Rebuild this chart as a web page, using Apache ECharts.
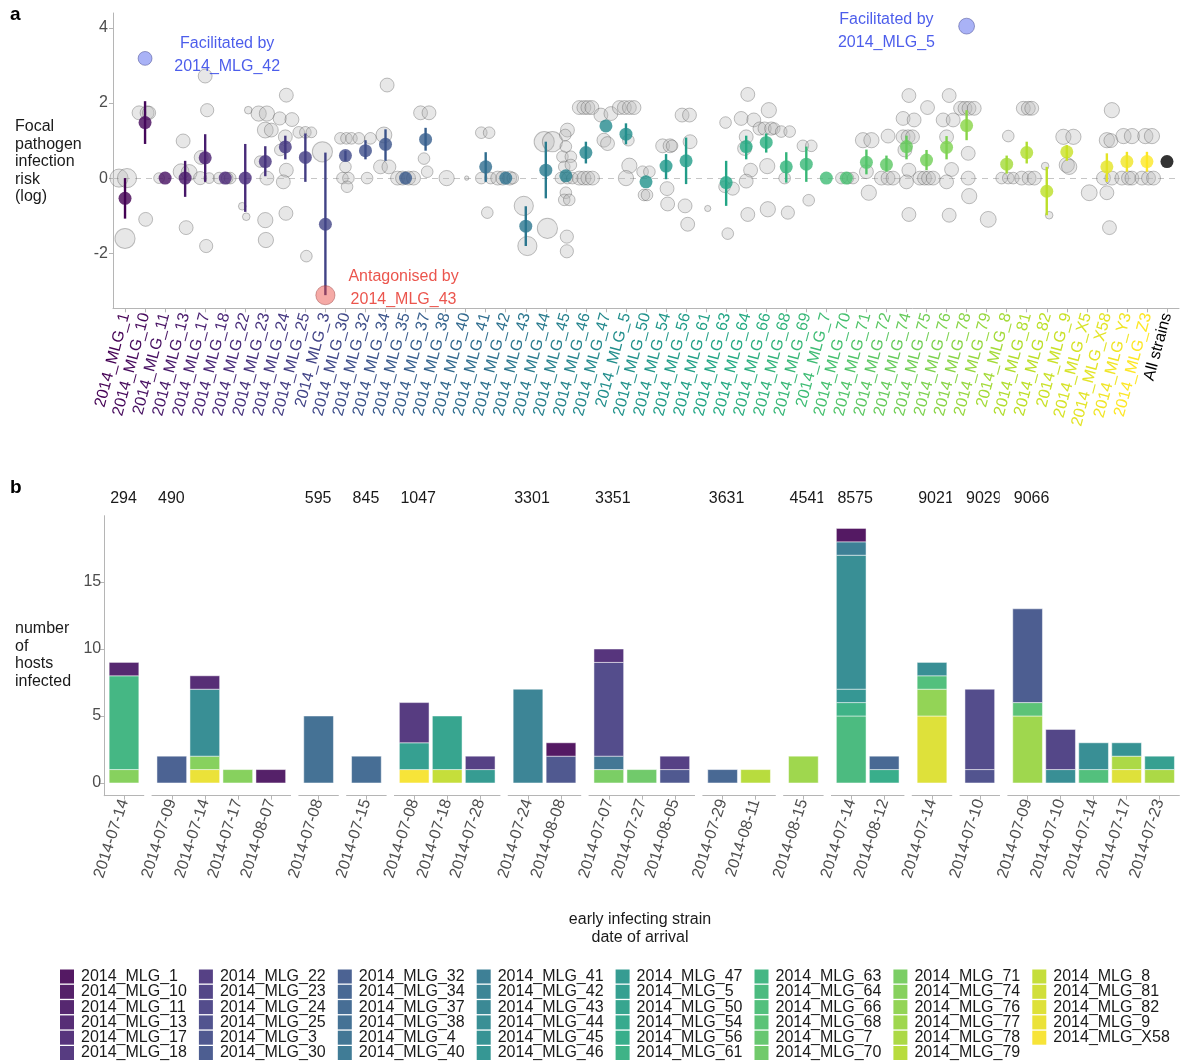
<!DOCTYPE html>
<html>
<head>
<meta charset="utf-8">
<script src="https://cdn.jsdelivr.net/npm/echarts@6/dist/echarts.min.js"></script>
<style>
  html, body { margin: 0; padding: 0; background: #ffffff; }
  #chart { width: 1181px; height: 1063px; }
</style>
</head>
<body>
<div id="chart"></div>
<script>
// ---------------- Panel a: focal pathogen infection risk (log) by early strain ----------------
const strainIds = ['2014_MLG_1','2014_MLG_10','2014_MLG_11','2014_MLG_13','2014_MLG_17','2014_MLG_18','2014_MLG_22','2014_MLG_23','2014_MLG_24','2014_MLG_25',
  '2014_MLG_3','2014_MLG_30','2014_MLG_32','2014_MLG_34','2014_MLG_35','2014_MLG_37','2014_MLG_38','2014_MLG_40','2014_MLG_41','2014_MLG_42',
  '2014_MLG_43','2014_MLG_44','2014_MLG_45','2014_MLG_46','2014_MLG_47','2014_MLG_5','2014_MLG_50','2014_MLG_54','2014_MLG_56','2014_MLG_61',
  '2014_MLG_63','2014_MLG_64','2014_MLG_66','2014_MLG_68','2014_MLG_69','2014_MLG_7','2014_MLG_70','2014_MLG_71','2014_MLG_72','2014_MLG_74',
  '2014_MLG_75','2014_MLG_76','2014_MLG_78','2014_MLG_79','2014_MLG_8','2014_MLG_81','2014_MLG_82','2014_MLG_9','2014_MLG_X5','2014_MLG_X58',
  '2014_MLG_Y3','2014_MLG_Z3','All strains'];

// mean log risk and interval per strain (null = not estimated)
const riskMean = [-0.54, 1.48, 0, 0, 0.54, 0, 0, 0.44, 0.83, 0.55,
  -1.23, 0.6, 0.73, 0.9, 0, 1.03, null, null, 0.3, 0,
  -1.28, 0.21, 0.06, 0.68, 1.39, 1.17, -0.1, 0.32, 0.46, null,
  -0.12, 0.84, 0.95, 0.3, 0.37, 0, 0, 0.42, 0.36, 0.84,
  0.48, 0.82, 1.4, null, 0.37, 0.68, -0.35, 0.7, null, 0.3,
  0.44, 0.44, 0.44];
const riskLow = [-1.08, 0.91, null, -0.5, -0.1, null, -0.9, 0.05, 0.5, -0.1,
  -3.12, 0.46, 0.5, 0.46, null, 0.73, null, null, -0.1, null,
  -1.81, -0.54, null, 0.39, null, 0.9, null, -0.03, -0.16, null,
  -0.74, 0.5, 0.68, -0.12, -0.1, null, null, 0.1, 0.17, 0.5,
  0.21, 0.5, 1.01, null, 0.12, 0.39, -0.99, 0.46, null, -0.1,
  0.17, 0.17, null];
const riskHigh = [0.0, 2.05, null, 0.46, 1.17, null, 0.91, 0.85, 1.13, 1.19,
  0.68, 0.73, 1.01, 1.3, null, 1.34, null, null, 0.69, null,
  -0.75, 0.97, null, 0.97, null, 1.46, null, 0.64, 1.08, null,
  0.46, 1.13, 1.19, 0.69, 0.84, null, null, 0.76, 0.6, 1.13,
  0.75, 1.12, 1.81, null, 0.6, 0.97, 0.3, 0.88, null, 0.66,
  0.7, 0.7, null];

// pairwise estimates per strain: [jitter, log risk, hosts]
const pairEstimates = [
  [[0, -1.61, 21], [-0.3, 0, 17], [0.1, 0, 19]],
  [[-0.3, 1.74, 10], [0.1, 1.74, 10], [0.2, 1.74, 9], [0.03, -1.1, 10]],
  [[-0.3, 0, 6]],
  [[-0.1, 0.99, 10], [0.05, -1.32, 10], [-0.2, 0.17, 13], [0.2, 0.15, 13]],
  [[0, 2.72, 10], [0.1, 1.81, 9], [-0.2, 0.55, 10], [-0.25, 0, 9], [0.2, 0, 6], [0.05, -1.81, 9]],
  [[-0.3, 0, 7], [0.25, 0, 7], [0.1, 0, 7]],
  [[0.15, 1.81, 3], [-0.15, -0.75, 3], [0.05, -1.03, 3]],
  [[-0.33, 1.72, 12], [0.08, 1.72, 12], [0, 1.28, 13], [0.3, 1.28, 10], [-0.25, 0.44, 7], [0.08, 0, 10], [0, -1.12, 12], [0.03, -1.65, 12]],
  [[0.05, 2.21, 10], [-0.28, 1.59, 9], [0.33, 1.56, 10], [0, 1.1, 10], [-0.25, 0.75, 7], [0.05, 0.21, 10], [-0.1, -0.1, 10], [0.03, -0.94, 10]],
  [[-0.33, 1.22, 7], [0, 1.22, 7], [0.3, 1.22, 6], [0.05, -2.08, 7]],
  [[-0.15, 0.7, 21]],
  [[-0.25, 1.06, 7], [0.05, 1.06, 7], [0.3, 1.06, 7], [0, 0.3, 7], [-0.15, 0, 7], [0.15, 0, 7], [0.08, -0.23, 7]],
  [[-0.33, 1.06, 7], [0.25, 1.06, 7], [0.08, 0, 7]],
  [[0.08, 2.48, 10], [-0.08, 1.15, 13], [-0.25, 0.3, 10], [0.17, 0.3, 10]],
  [[-0.4, 0, 10], [-0.15, 0, 10], [0.15, 0, 10], [0.4, 0, 10]],
  [[-0.25, 1.74, 10], [0.17, 1.74, 10], [-0.08, 0.52, 7], [0.08, 0.17, 7]],
  [[0.05, 0, 12]],
  [[0.05, 0, 1]],
  [[-0.22, 1.21, 7], [0.17, 1.21, 7], [-0.22, 0, 7], [0.25, 0, 7], [0.08, -0.92, 7]],
  [[-0.4, 0, 10], [-0.15, 0, 10], [0.2, 0, 10], [0.35, 0, 7]],
  [[-0.1, -0.74, 19], [0.08, -1.81, 19]],
  [[-0.08, 0.97, 21], [0.33, 0.97, 21], [0.08, -1.34, 21]],
  [[0.08, 1.28, 10], [-0.03, 1.15, 7], [0, 0.84, 7], [-0.17, 0.57, 7], [0.25, 0.57, 7], [-0.08, 0.3, 7], [0.25, 0.35, 7], [-0.25, 0, 7], [0.08, 0, 7], [0.33, 0, 7], [0, -0.39, 7], [-0.08, -0.58, 7], [0.17, -0.58, 7], [0.05, -1.56, 9], [0.05, -1.95, 9]],
  [[-0.33, 1.88, 10], [-0.1, 1.88, 10], [0.1, 1.88, 10], [0.3, 1.88, 10], [-0.33, 0, 10], [-0.1, 0, 10], [0.1, 0, 10], [0.33, 0, 10]],
  [[-0.25, 1.68, 10], [0.25, 1.72, 10], [-0.1, 1.01, 10], [0.08, 0.92, 10]],
  [[-0.33, 1.88, 10], [-0.08, 1.88, 10], [0.17, 1.88, 10], [0.4, 1.88, 10], [0.12, 1.01, 7], [0.17, 0.33, 12], [0, 0, 12]],
  [[-0.17, 0.17, 7], [0.17, 0.17, 7], [-0.1, -0.45, 7], [0.05, -0.45, 7]],
  [[-0.17, 0.86, 10], [0.2, 0.86, 10], [0.3, 0.86, 7], [0.05, -0.28, 10], [0.08, -0.69, 10]],
  [[-0.2, 1.68, 10], [0.17, 1.68, 10], [0.2, 0.97, 10], [-0.05, -0.74, 10], [0.08, -1.23, 10]],
  [[0.08, -0.81, 2]],
  [[-0.03, 1.48, 7], [-0.08, -0.23, 7], [0.33, -0.28, 9], [0.08, -1.48, 7]],
  [[0.08, 2.23, 10], [-0.25, 1.59, 10], [0.38, 1.55, 10], [0, 1.1, 10], [-0.08, 0.79, 10], [0.22, 0.21, 10], [0, -0.08, 10], [0.08, -0.97, 10]],
  [[0.13, 1.81, 12], [-0.33, 1.32, 9], [-0.08, 1.32, 9], [0.25, 1.32, 9], [0.4, 1.32, 7], [0.05, 0.32, 12], [0.08, -0.83, 12]],
  [[-0.25, 1.24, 7], [0.17, 1.24, 7], [-0.08, 0, 7], [0.08, -0.92, 9]],
  [[-0.17, 0.86, 7], [0.25, 0.86, 7], [0.12, -0.59, 7]],
  [],
  [[-0.25, 0, 7], [0.08, 0, 7], [0.33, 0, 7]],
  [[-0.17, 1.01, 12], [0.25, 1.01, 12], [0, 0.17, 10], [0.12, -0.39, 12]],
  [[0.08, 1.12, 10], [-0.25, 0, 10], [0.08, 0, 10], [0.33, 0, 10]],
  [[0.12, 2.2, 10], [-0.17, 1.59, 10], [0.38, 1.55, 10], [-0.17, 1.1, 10], [0.08, 1.1, 10], [0.3, 1.1, 10], [-0.08, 0.75, 10], [0.12, 0.21, 10], [0, -0.1, 10], [0.12, -0.97, 10]],
  [[0.05, 1.88, 10], [-0.33, 0, 10], [-0.1, 0, 10], [0.1, 0, 10], [0.33, 0, 10]],
  [[0.13, 2.2, 10], [-0.17, 1.55, 10], [0.33, 1.55, 10], [0, 1.1, 10], [0.25, 0.23, 10], [0, -0.1, 10], [0.13, -0.99, 10]],
  [[-0.3, 1.86, 10], [-0.08, 1.86, 10], [0.12, 1.86, 10], [0.38, 1.86, 10], [0.08, 0.66, 10], [0.08, 0, 10], [0.13, -0.48, 12]],
  [[0.08, -1.1, 13]],
  [[0.08, 1.12, 7], [-0.25, 0, 7], [0.08, 0, 7], [0.33, 0, 7]],
  [[-0.17, 1.86, 10], [0.08, 1.86, 10], [0.25, 1.86, 10], [-0.25, 0, 10], [0.12, 0, 10], [0.38, 0, 10]],
  [[-0.08, 0.32, 3], [0.12, -0.99, 3]],
  [[-0.17, 1.1, 12], [0.33, 1.1, 12], [0, 0.35, 12], [0.12, 0.3, 12]],
  [[0.12, -0.39, 13]],
  [[0.25, 1.81, 12], [0, 1.01, 12], [0.2, 1.0, 10], [-0.17, 0, 10], [0.25, 0, 10], [0, -0.39, 10], [0.13, -1.32, 10]],
  [[-0.17, 1.12, 12], [0.25, 1.12, 12], [-0.25, 0, 10], [0.08, 0, 10], [0.25, 0, 10]],
  [[-0.08, 1.12, 12], [0.25, 1.12, 12], [-0.25, 0, 10], [0.08, 0, 10], [0.33, 0, 10]],
  []
];

// strongest pairwise interactions
const partnerStrain = ['2014_MLG_10', '2014_MLG_78', '2014_MLG_3'];
const partnerRisk = [3.19, 4.05, -3.12];
const partnerHosts = [10, 13, 19];
const partnerEffect = ['Facilitated by', 'Facilitated by', 'Antagonised by'];
const partnerName = ['2014_MLG_42', '2014_MLG_5', '2014_MLG_43'];

// ---------------- Panel b: hosts infected, by run and arrival date ----------------
const runLabels = ['294', '490', '595', '845', '1047', '3301', '3351', '3631', '4541', '8575', '9021', '9029', '9066'];
const barRun = [0, 1, 1, 1, 1, 2, 3, 4, 4, 4, 5, 5, 6, 6, 6, 7, 7, 8, 9, 9, 10, 11, 12, 12, 12, 12, 12];
const barDate = ['2014-07-14', '2014-07-09', '2014-07-14', '2014-07-17', '2014-08-07', '2014-07-08', '2014-07-15',
  '2014-07-08', '2014-07-18', '2014-07-28', '2014-07-24', '2014-08-08', '2014-07-07', '2014-07-27', '2014-08-05',
  '2014-07-29', '2014-08-11', '2014-08-15', '2014-07-14', '2014-08-12', '2014-07-14', '2014-07-10',
  '2014-07-09', '2014-07-10', '2014-07-14', '2014-07-17', '2014-07-23'];
const barHosts = [
  [['2014_MLG_74', 1], ['2014_MLG_63', 7], ['2014_MLG_11', 1]],
  [['2014_MLG_32', 2]],
  [['2014_MLG_9', 1], ['2014_MLG_74', 1], ['2014_MLG_44', 5], ['2014_MLG_13', 1]],
  [['2014_MLG_74', 1]],
  [['2014_MLG_10', 1]],
  [['2014_MLG_38', 5]],
  [['2014_MLG_37', 2]],
  [['2014_MLG_X58', 1], ['2014_MLG_5', 2], ['2014_MLG_18', 3]],
  [['2014_MLG_8', 1], ['2014_MLG_50', 4]],
  [['2014_MLG_47', 1], ['2014_MLG_22', 1]],
  [['2014_MLG_42', 7]],
  [['2014_MLG_3', 2], ['2014_MLG_1', 1]],
  [['2014_MLG_71', 1], ['2014_MLG_4', 1], ['2014_MLG_24', 7], ['2014_MLG_17', 1]],
  [['2014_MLG_70', 1]],
  [['2014_MLG_3', 1], ['2014_MLG_22', 1]],
  [['2014_MLG_34', 1]],
  [['2014_MLG_79', 1]],
  [['2014_MLG_77', 2]],
  [['2014_MLG_64', 5], ['2014_MLG_61', 1], ['2014_MLG_46', 1], ['2014_MLG_44', 10], ['2014_MLG_41', 1], ['2014_MLG_1', 1]],
  [['2014_MLG_56', 1], ['2014_MLG_34', 1]],
  [['2014_MLG_82', 5], ['2014_MLG_76', 2], ['2014_MLG_66', 1], ['2014_MLG_44', 1]],
  [['2014_MLG_25', 1], ['2014_MLG_24', 6]],
  [['2014_MLG_77', 5], ['2014_MLG_68', 1], ['2014_MLG_30', 7]],
  [['2014_MLG_44', 1], ['2014_MLG_23', 3]],
  [['2014_MLG_66', 1], ['2014_MLG_44', 2]],
  [['2014_MLG_82', 1], ['2014_MLG_78', 1], ['2014_MLG_45', 1]],
  [['2014_MLG_78', 1], ['2014_MLG_5', 1]]
];
const legendStrains = ['2014_MLG_1','2014_MLG_10','2014_MLG_11','2014_MLG_13','2014_MLG_17','2014_MLG_18',
  '2014_MLG_22','2014_MLG_23','2014_MLG_24','2014_MLG_25','2014_MLG_3','2014_MLG_30',
  '2014_MLG_32','2014_MLG_34','2014_MLG_37','2014_MLG_38','2014_MLG_4','2014_MLG_40',
  '2014_MLG_41','2014_MLG_42','2014_MLG_43','2014_MLG_44','2014_MLG_45','2014_MLG_46',
  '2014_MLG_47','2014_MLG_5','2014_MLG_50','2014_MLG_54','2014_MLG_56','2014_MLG_61',
  '2014_MLG_63','2014_MLG_64','2014_MLG_66','2014_MLG_68','2014_MLG_7','2014_MLG_70',
  '2014_MLG_71','2014_MLG_74','2014_MLG_76','2014_MLG_77','2014_MLG_78','2014_MLG_79',
  '2014_MLG_8','2014_MLG_81','2014_MLG_82','2014_MLG_9','2014_MLG_X58'];

// ---------------- colour helpers ----------------
const FONT = '"Liberation Sans", Arial, Helvetica, sans-serif';
const AXIS = '#b5b5b5';
const TICK_TEXT = '#4d4d4d';
const VIRIDIS = ['#440154', '#482576', '#414487', '#35608D', '#2A788E', '#21908C', '#22A884', '#43BF71', '#7AD151', '#BBDF27', '#FDE725'];
function hexToRgb(h) { const n = parseInt(h.slice(1), 16); return [(n >> 16) & 255, (n >> 8) & 255, n & 255]; }
function toHex(c) { return '#' + c.map(v => Math.round(v).toString(16).padStart(2, '0')).join(''); }
function viridis(t) {
  t = Math.min(1, Math.max(0, t));
  const p = t * 10, i = Math.min(9, Math.floor(p)), f = p - i;
  const a = hexToRgb(VIRIDIS[i]), b = hexToRgb(VIRIDIS[i + 1]);
  return toHex(a.map((v, k) => v + (b[k] - v) * f));
}
function soften(hex, k) { return toHex(hexToRgb(hex).map(v => v + (205 - v) * k)); }

const nStrains = strainIds.length - 1;
const strainColor = strainIds.map((s, i) => i < nStrains ? viridis(i / (nStrains - 1)) : '#000000');
const legendColor = {};
legendStrains.forEach((s, i) => { legendColor[s] = soften(viridis(i / (legendStrains.length - 1)), 0.12); });

// ---------------- layout ----------------
const grids = [], xAxes = [], yAxes = [], series = [], graphics = [], legends = [];
const tickIdx = strainIds.map((_, i) => i);

// panel a
grids.push({ left: 113, top: 13, width: 1066, height: 295.3, outerBoundsMode: 'none' });
xAxes.push({
  type: 'value', gridIndex: 0, min: -0.6, max: nStrains + 0.6,
  axisLine: { show: true, onZero: false, lineStyle: { color: AXIS } },
  axisTick: { show: true, length: 4, customValues: tickIdx, lineStyle: { color: AXIS } },
  axisLabel: {
    customValues: tickIdx, rotate: 75, margin: 5, fontSize: 16, fontFamily: FONT,
    formatter: v => strainIds[Math.round(v)] || '',
    color: (v) => {
      let i = Math.round(Number(v));
      if (isNaN(i)) i = strainIds.indexOf(v);
      return strainColor[i] || '#000000';
    }
  },
  splitLine: { show: false }
});
yAxes.push({
  type: 'value', gridIndex: 0, min: -3.47, max: 4.4,
  axisLine: { show: true, onZero: false, lineStyle: { color: AXIS } },
  axisTick: { show: true, length: 4, customValues: [-2, 0, 2, 4], lineStyle: { color: AXIS } },
  axisLabel: { customValues: [-2, 0, 2, 4], fontSize: 16, color: TICK_TEXT, margin: 5, fontFamily: FONT },
  splitLine: { show: false }
});

const bubbleSize = v => 4.4 * Math.sqrt(v[2]);
const pairData = [];
pairEstimates.forEach((list, i) => list.forEach(([dx, r, n]) => pairData.push([i + dx, r, n])));
series.push({
  type: 'scatter', name: 'pairwise', xAxisIndex: 0, yAxisIndex: 0, z: 2,
  data: pairData, symbolSize: bubbleSize,
  itemStyle: { color: 'rgba(185,185,185,0.42)', borderColor: 'rgba(70,70,70,0.42)', borderWidth: 1 },
  emphasis: { disabled: true },
  markLine: {
    silent: true, z: 1, symbol: ['none', 'none'], label: { show: false },
    lineStyle: { color: '#c6c6c6', type: [6, 5], width: 1 },
    data: [{ yAxis: 0 }]
  }
});

const ciData = [], ciColors = [];
riskMean.forEach((m, i) => {
  if (riskLow[i] != null && riskHigh[i] != null) { ciData.push([i, riskLow[i], riskHigh[i]]); ciColors.push(strainColor[i]); }
});
series.push({
  type: 'custom', name: 'interval', xAxisIndex: 0, yAxisIndex: 0, z: 3,
  data: ciData, encode: { x: 0, y: [1, 2] },
  renderItem: (params, api) => {
    const p1 = api.coord([api.value(0), api.value(1)]);
    const p2 = api.coord([api.value(0), api.value(2)]);
    return { type: 'line', shape: { x1: p1[0], y1: p1[1], x2: p2[0], y2: p2[1] },
      style: { stroke: ciColors[params.dataIndex], lineWidth: 2.4 } };
  },
  silent: true
});

series.push({
  type: 'scatter', name: 'mean', xAxisIndex: 0, yAxisIndex: 0, z: 4, symbolSize: 13,
  data: riskMean.map((m, i) => m == null ? null : { value: [i, m], itemStyle: { color: strainColor[i] } }).filter(d => d),
  emphasis: { disabled: true }
});

series.push({
  type: 'scatter', name: 'partner', xAxisIndex: 0, yAxisIndex: 0, z: 4, symbolSize: bubbleSize,
  data: partnerStrain.map((s, k) => {
    const up = partnerEffect[k].startsWith('Facilitated');
    return {
      value: [strainIds.indexOf(s), partnerRisk[k], partnerHosts[k]],
      itemStyle: up
        ? { color: 'rgba(62,82,235,0.56)', borderColor: 'rgba(50,55,130,0.55)', borderWidth: 1 }
        : { color: 'rgba(232,62,52,0.55)', borderColor: 'rgba(140,50,50,0.5)', borderWidth: 1 }
    };
  }),
  emphasis: { disabled: true }
});

// annotation labels, anchored in axis units
const noteAnchors = [[5.1, 3.28], [38.0, 3.91], [13.9, -2.92]];
series.push({
  type: 'scatter', name: 'notes', xAxisIndex: 0, yAxisIndex: 0, z: 5, symbolSize: 1,
  itemStyle: { color: 'rgba(0,0,0,0)' },
  data: noteAnchors.map((p, k) => {
    const up = partnerEffect[k].startsWith('Facilitated');
    return {
      value: p, name: partnerEffect[k] + '\n' + partnerName[k],
      label: { color: up ? '#1f35e6' : '#e62a20' }
    };
  }),
  label: { show: true, position: 'inside', formatter: p => p.name, fontSize: 16, lineHeight: 23, align: 'center', fontFamily: FONT },
  emphasis: { disabled: true },
  silent: true
});

// panel b: one facet per run, width proportional to its bar count
const UNIT = 33, GAP = 8.2, B_TOP = 515.7, B_HEIGHT = 280;
const stackRect = (color) => (params, api) => {
  const x = api.value(0);
  const lo = api.coord([x, api.value(1)]);
  const hi = api.coord([x, api.value(2)]);
  const w = api.size([0.9, 0])[0];
  return {
    type: 'rect',
    shape: { x: lo[0] - w / 2, y: hi[1], width: w, height: lo[1] - hi[1] },
    style: { fill: color, stroke: 'rgba(255,255,255,0.7)', lineWidth: 0.7 }
  };
};
let cursor = 124 - 0.6 * UNIT;
const usedStrains = new Set();
runLabels.forEach((run, f) => {
  const g = f + 1;
  const bars = barRun.map((r, i) => r === f ? i : -1).filter(i => i >= 0);
  const n = bars.length;
  const w = (n + 0.2) * UNIT;
  const idx = bars.map((_, j) => j);
  grids.push({ left: cursor, top: B_TOP, width: w, height: B_HEIGHT, outerBoundsMode: 'none' });
  xAxes.push({
    type: 'value', gridIndex: g, min: -0.6, max: n - 0.4,
    axisLine: { show: true, onZero: false, lineStyle: { color: AXIS } },
    axisTick: { show: true, length: 4, customValues: idx, lineStyle: { color: AXIS } },
    axisLabel: { customValues: idx, formatter: v => barDate[bars[Math.round(v)]], rotate: 72, margin: 4, fontSize: 16, color: TICK_TEXT, fontFamily: FONT },
    splitLine: { show: false }
  });
  if (f === 0) {
    yAxes.push({
      type: 'value', gridIndex: g, min: -0.95, max: 19.95,
      axisLine: { show: true, onZero: false, lineStyle: { color: AXIS } },
      axisTick: { show: true, length: 4, customValues: [0, 5, 10, 15], lineStyle: { color: AXIS } },
      axisLabel: { customValues: [0, 5, 10, 15], fontSize: 16, color: TICK_TEXT, margin: 3, fontFamily: FONT },
      splitLine: { show: false }
    });
  } else {
    yAxes.push({ type: 'value', gridIndex: g, min: -0.95, max: 19.95, show: false, splitLine: { show: false } });
  }
  // stacking order: later legend entries sit at the bottom of each bar
  const strains = [];
  bars.forEach(b => barHosts[b].forEach(([s]) => { if (!strains.includes(s)) strains.push(s); }));
  strains.sort((a, b) => legendStrains.indexOf(b) - legendStrains.indexOf(a));
  const base = bars.map(() => 0);
  strains.forEach(s => {
    usedStrains.add(s);
    const data = [];
    bars.forEach((b, j) => {
      const hit = barHosts[b].find(([name]) => name === s);
      if (hit) { data.push([j, base[j], base[j] + hit[1]]); base[j] += hit[1]; }
    });
    series.push({
      type: 'custom', name: s, xAxisIndex: g, yAxisIndex: g, z: 2,
      itemStyle: { color: legendColor[s] },
      encode: { x: 0, y: [1, 2] },
      data, renderItem: stackRect(legendColor[s]), silent: true
    });
  });
  // strip label
  graphics.push({
    type: 'text', x: cursor + 6, y: 499, z: 10,
    style: { text: run, fill: '#1a1a1a', fontSize: 16, fontFamily: FONT, verticalAlign: 'middle', align: 'left' }
  });
  if (f < runLabels.length - 1) {
    // strip text is clipped at the strip's right edge
    graphics.push({ type: 'rect', z: 11, shape: { x: cursor + w, y: 486, width: GAP, height: 26 }, style: { fill: '#ffffff' } });
  }
  cursor += w + GAP;
});
// legend entries without bars still get a key
legendStrains.forEach(s => {
  if (!usedStrains.has(s)) series.push({
    type: 'custom', name: s, xAxisIndex: 1, yAxisIndex: 1, data: [],
    itemStyle: { color: legendColor[s] }, renderItem: stackRect(legendColor[s])
  });
});

// legend: 8 columns of 6
for (let c = 0; c * 6 < legendStrains.length; c++) {
  legends.push({
    orient: 'vertical', left: 60 + 138.9 * c, top: 968.5, height: 140, padding: 0,
    itemWidth: 14, itemHeight: 14, itemGap: -0.7, icon: 'rect',
    selectedMode: false,
    textStyle: { fontSize: 16, color: '#1a1a1a', fontFamily: FONT, padding: [0, 0, 0, 2] },
    data: legendStrains.slice(c * 6, c * 6 + 6)
  });
}

// titles
const titleText = (text, x, y, extra) => ({
  type: 'text', x, y, z: 10,
  style: Object.assign({ text, fill: '#1a1a1a', fontSize: 16, fontFamily: FONT, lineHeight: 17.5 }, extra || {})
});
graphics.push(titleText('a', 10, 6, { fontWeight: 'bold', fontSize: 19, fill: '#000000' }));
graphics.push(titleText('b', 10, 479, { fontWeight: 'bold', fontSize: 19, fill: '#000000' }));
graphics.push(titleText('Focal\npathogen\ninfection\nrisk\n(log)', 15, 118));
graphics.push(titleText('number\nof\nhosts\ninfected', 15, 620));
graphics.push(titleText('early infecting strain\ndate of arrival', 640, 911, { align: 'center' }));

const chart = echarts.init(document.getElementById('chart'), null, { width: 1181, height: 1063 });
chart.setOption({
  animation: false,
  backgroundColor: '#ffffff',
  textStyle: { fontFamily: FONT },
  grid: grids,
  xAxis: xAxes,
  yAxis: yAxes,
  legend: legends,
  graphic: graphics,
  series: series
});
</script>
</body>
</html>
